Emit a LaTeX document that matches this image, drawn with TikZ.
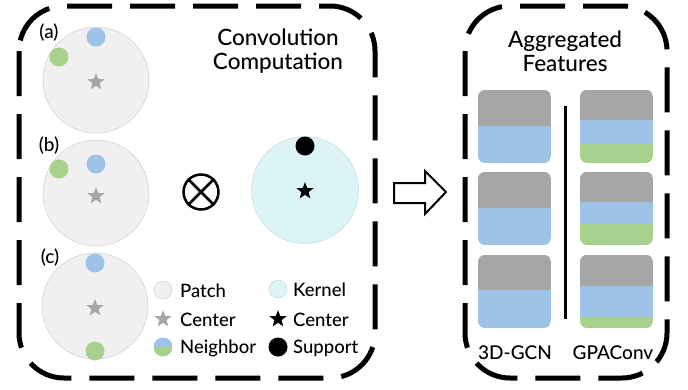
\documentclass[tikz,border=0pt]{standalone}
\usepackage{fontspec}
\setmainfont{Lato Medium}
\usetikzlibrary{shapes.geometric}
\definecolor{featgray}{HTML}{A6A6A6}
\definecolor{featblue}{HTML}{9DC3E6}
\definecolor{featgreen}{HTML}{A9D18E}
\definecolor{patchfill}{HTML}{F0F0F0}
\definecolor{patchline}{HTML}{D4D4D4}
\definecolor{kernelfill}{HTML}{DDF4F7}
\definecolor{kernelline}{HTML}{C8DDE0}
\tikzset{
  panel/.style={line width=5pt, dash pattern=on 45pt off 18pt, rounded corners=45pt},
  patch/.style={circle, fill=patchfill, draw=patchline, line width=0.6pt, minimum size=106pt, inner sep=0pt},
  kernel/.style={circle, fill=kernelfill, draw=kernelline, line width=0.6pt, minimum size=107pt, inner sep=0pt},
  dot/.style={circle, minimum size=19pt, inner sep=0pt},
  bluedot/.style={dot, fill=featblue},
  greendot/.style={dot, fill=featgreen},
  blackdot/.style={dot, fill=black},
  centerstar/.style={star, star points=5, star point ratio=2.4, minimum size=18pt, inner sep=0pt},
  graystar/.style={centerstar, fill=featgray},
  blackstar/.style={centerstar, fill=black},
  title/.style={font=\fontsize{22.5}{26}\selectfont, align=center},
  legend/.style={font=\fontsize{18.5}{20}\selectfont, anchor=west, inner sep=0pt},
  tag/.style={font=\fontsize{19}{20}\selectfont, inner sep=0pt},
  collabel/.style={font=\fontsize{19}{22}\selectfont, inner sep=0pt},
}
\begin{document}
\begin{tikzpicture}[x=1pt, y=-1pt]
\useasboundingbox (0,0) rectangle (688,389);

% dashed panels
\draw[panel] (19,6) rectangle (375,378);
\draw[panel] (465,6) rectangle (667,378);

% titles
\node[title] (convtitle) at (278,51) {Convolution\\[-2pt]Computation};
\node[title] (aggtitle) at (565,51) {Aggregated\\[-2pt]Features};

% patch (a)
\node[patch] (pa) at (96,80) {};
\node[bluedot] (pab) at (96,37) {};
\node[greendot] (pag) at (59,57) {};
\node[graystar] (pas) at (96,82) {};
\node[tag] (la) at (49,33) {(a)};

% patch (b)
\node[patch] (pb) at (96,193) {};
\node[bluedot] (pbb) at (96,164) {};
\node[greendot] (pbg) at (59,169) {};
\node[graystar] (pbs) at (96,196) {};
\node[tag] (lb) at (49,146) {(b)};

% patch (c)
\node[patch] (pc) at (95,306) {};
\node[bluedot] (pcb) at (95,263) {};
\node[greendot] (pcg) at (95,351) {};
\node[graystar] (pcs) at (95,308) {};
\node[tag] (lc) at (50,258) {(c)};

% convolution operator
\node[circle, draw, line width=2.5pt, minimum size=35pt, inner sep=0pt] (otimes) at (201,192) {};
\draw[line width=2.5pt] (otimes.north west) -- (otimes.south east);
\draw[line width=2.5pt] (otimes.north east) -- (otimes.south west);

% kernel
\node[kernel] (kn) at (305,190) {};
\node[blackdot] (ks) at (305,146) {};
\node[blackstar] (kc) at (305,191) {};

% legend
\node[circle, fill=patchfill, draw=patchline, line width=0.6pt, minimum size=18pt, inner sep=0pt] (lgpatch) at (163,290) {};
\node[legend] (tpatch) at (180,291) {Patch};
\node[graystar] (lgstar) at (163,319) {};
\node[legend] (tcenter) at (180,320) {Center};
\begin{scope}
  \clip (163,347) circle (9.5pt);
  \fill[featblue] (153,337) rectangle (173,347);
  \fill[featgreen] (153,347) rectangle (173,357);
\end{scope}
\coordinate (lgneigh) at (163,347);
\node[legend] (tneigh) at (180,348) {Neighbor};

\node[circle, fill=kernelfill, draw=kernelline, line width=0.6pt, minimum size=18pt, inner sep=0pt] (lgkernel) at (278,289) {};
\node[legend] (tkernel) at (293,290) {Kernel};
\node[blackstar] (lgkstar) at (278,319) {};
\node[legend] (tkcenter) at (293,320) {Center};
\node[blackdot] (lgsupport) at (278,347) {};
\node[legend] (tsupport) at (293,348) {Support};

% hollow arrow
\draw[line width=2pt, line join=miter, fill=white]
  (394,183) -- (425,183) -- (425,171) -- (446,192) -- (425,214) -- (425,203) -- (394,203) -- cycle;

% feature blocks: 3D-GCN column
\foreach \top/\g in {90/36, 172/36, 255/35} {
  \begin{scope}
    \clip[rounded corners=7pt] (478,\top) rectangle (551,\top+73);
    \fill[featblue] (478,\top) rectangle (551,\top+73);
    \fill[featgray] (478,\top) rectangle (551,\top+\g);
  \end{scope}
}
% feature blocks: GPAConv column
\foreach \top/\g/\b in {90/30/54, 172/30/52, 255/31/62} {
  \begin{scope}
    \clip[rounded corners=7pt] (580,\top) rectangle (653,\top+73);
    \fill[featgreen] (580,\top) rectangle (653,\top+73);
    \fill[featblue] (580,\top) rectangle (653,\top+\b);
    \fill[featgray] (580,\top) rectangle (653,\top+\g);
  \end{scope}
}

% column separator
\coordinate (septop) at (565,106);
\coordinate (sepbot) at (565,319);
\draw[line width=3pt] (septop) -- (sepbot);

\node[collabel] (lgcn) at (515,353) {3D-GCN};
\node[collabel] (lgpa) at (613,353) {GPAConv};
\end{tikzpicture}
\end{document}
